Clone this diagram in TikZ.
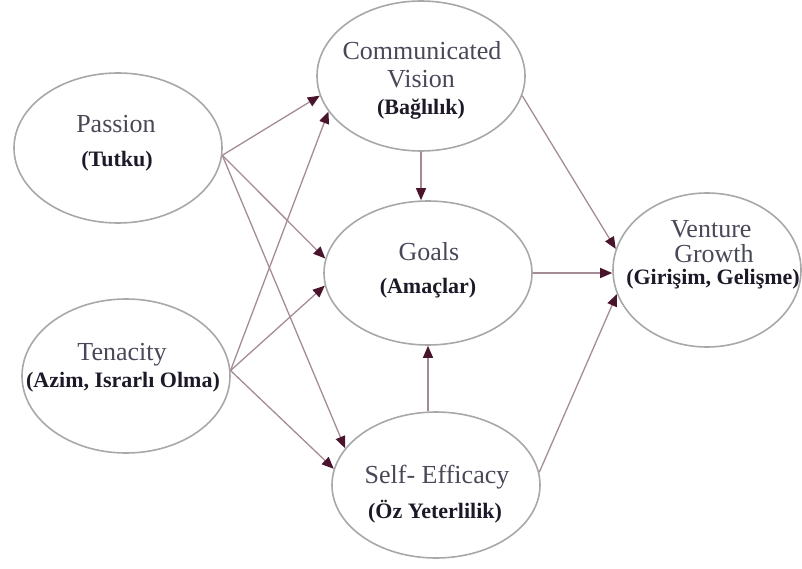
\documentclass[tikz,border=0pt]{standalone}
\usepackage{fontspec}
\setmainfont{Liberation Serif}
\usetikzlibrary{shapes.geometric,arrows.meta}

\definecolor{rimgray}{RGB}{168,168,168}
\definecolor{linkcol}{RGB}{165,140,148}
\definecolor{tipcol}{RGB}{75,20,45}
\definecolor{headtext}{RGB}{72,72,88}
\definecolor{subtext}{RGB}{30,25,40}

\tikzset{
  bubble/.style={ellipse, draw=rimgray, line width=1.6pt, inner sep=0pt},
  headline/.style={anchor=base, inner sep=0pt, text=headtext,
    font=\fontsize{26}{30}\selectfont},
  subline/.style={anchor=base, inner sep=0pt, text=subtext,
    font=\bfseries\fontsize{22}{26}\selectfont},
  link/.style={draw=linkcol, line width=1.3pt,
    -{Triangle[length=12pt,width=10pt,color=tipcol]}}
}

\begin{document}
\begin{tikzpicture}[x=1pt,y=-1pt]
\useasboundingbox (0,0) rectangle (802,569);

% constructs
\node[bubble, minimum width=208pt, minimum height=150pt] (passion) at (118,148) {};
\node[bubble, minimum width=208pt, minimum height=154pt] (tenacity) at (126,376) {};
\node[bubble, minimum width=208pt, minimum height=150pt] (vision) at (421,76) {};
\node[bubble, minimum width=208pt, minimum height=144pt] (goals) at (428,273) {};
\node[bubble, minimum width=208pt, minimum height=146pt] (efficacy) at (436,485) {};
\node[bubble, minimum width=188pt, minimum height=154pt] (growth) at (707,270) {};

% labels
\node[headline] (passion-t) at (116,133) {Passion};
\node[subline]  (passion-s) at (117,167) {(Tutku)};

\node[headline] (tenacity-t) at (122,360) {Tenacity};
\node[subline]  (tenacity-s) at (123,387) {(Azim, Israrlı Olma)};

\node[headline] (vision-t1) at (422,60) {Communicated};
\node[headline] (vision-t2) at (421,88) {Vision};
\node[subline]  (vision-s)  at (421,115) {(Bağlılık)};

\node[headline] (goals-t) at (429,260) {Goals};
\node[subline]  (goals-s) at (428,293) {(Amaçlar)};

\node[headline] (efficacy-t) at (437,483) {Self- Efficacy};
\node[subline]  (efficacy-s) at (435,518) {(Öz Yeterlilik)};

\node[headline] (growth-t1) at (711,237) {Venture};
\node[headline] (growth-t2) at (714,262) {Growth};
\node[subline]  (growth-s)  at (713,284) {(Girişim, Gelişme)};

% paths
\draw[link] (passion.-4) -- (vision.191);
\draw[link] (passion.-4) -- (goals.172);
\draw[link] (passion.-4) -- (efficacy.158);

\draw[link] (tenacity.3) -- (vision.201);
\draw[link] (tenacity.3) -- (goals.187);
\draw[link] (tenacity.3) -- (efficacy.171);

\draw[link] (vision.south) -- (vision.south |- goals.north);
\draw[link] (efficacy.north -| goals.south) -- (goals.south);

\draw[link] (vision.-11) -- (growth.167);
\draw[link] (goals.east) -- (goals.east -| growth.west);
\draw[link] (efficacy.7) -- (growth.195);
\end{tikzpicture}
\end{document}
